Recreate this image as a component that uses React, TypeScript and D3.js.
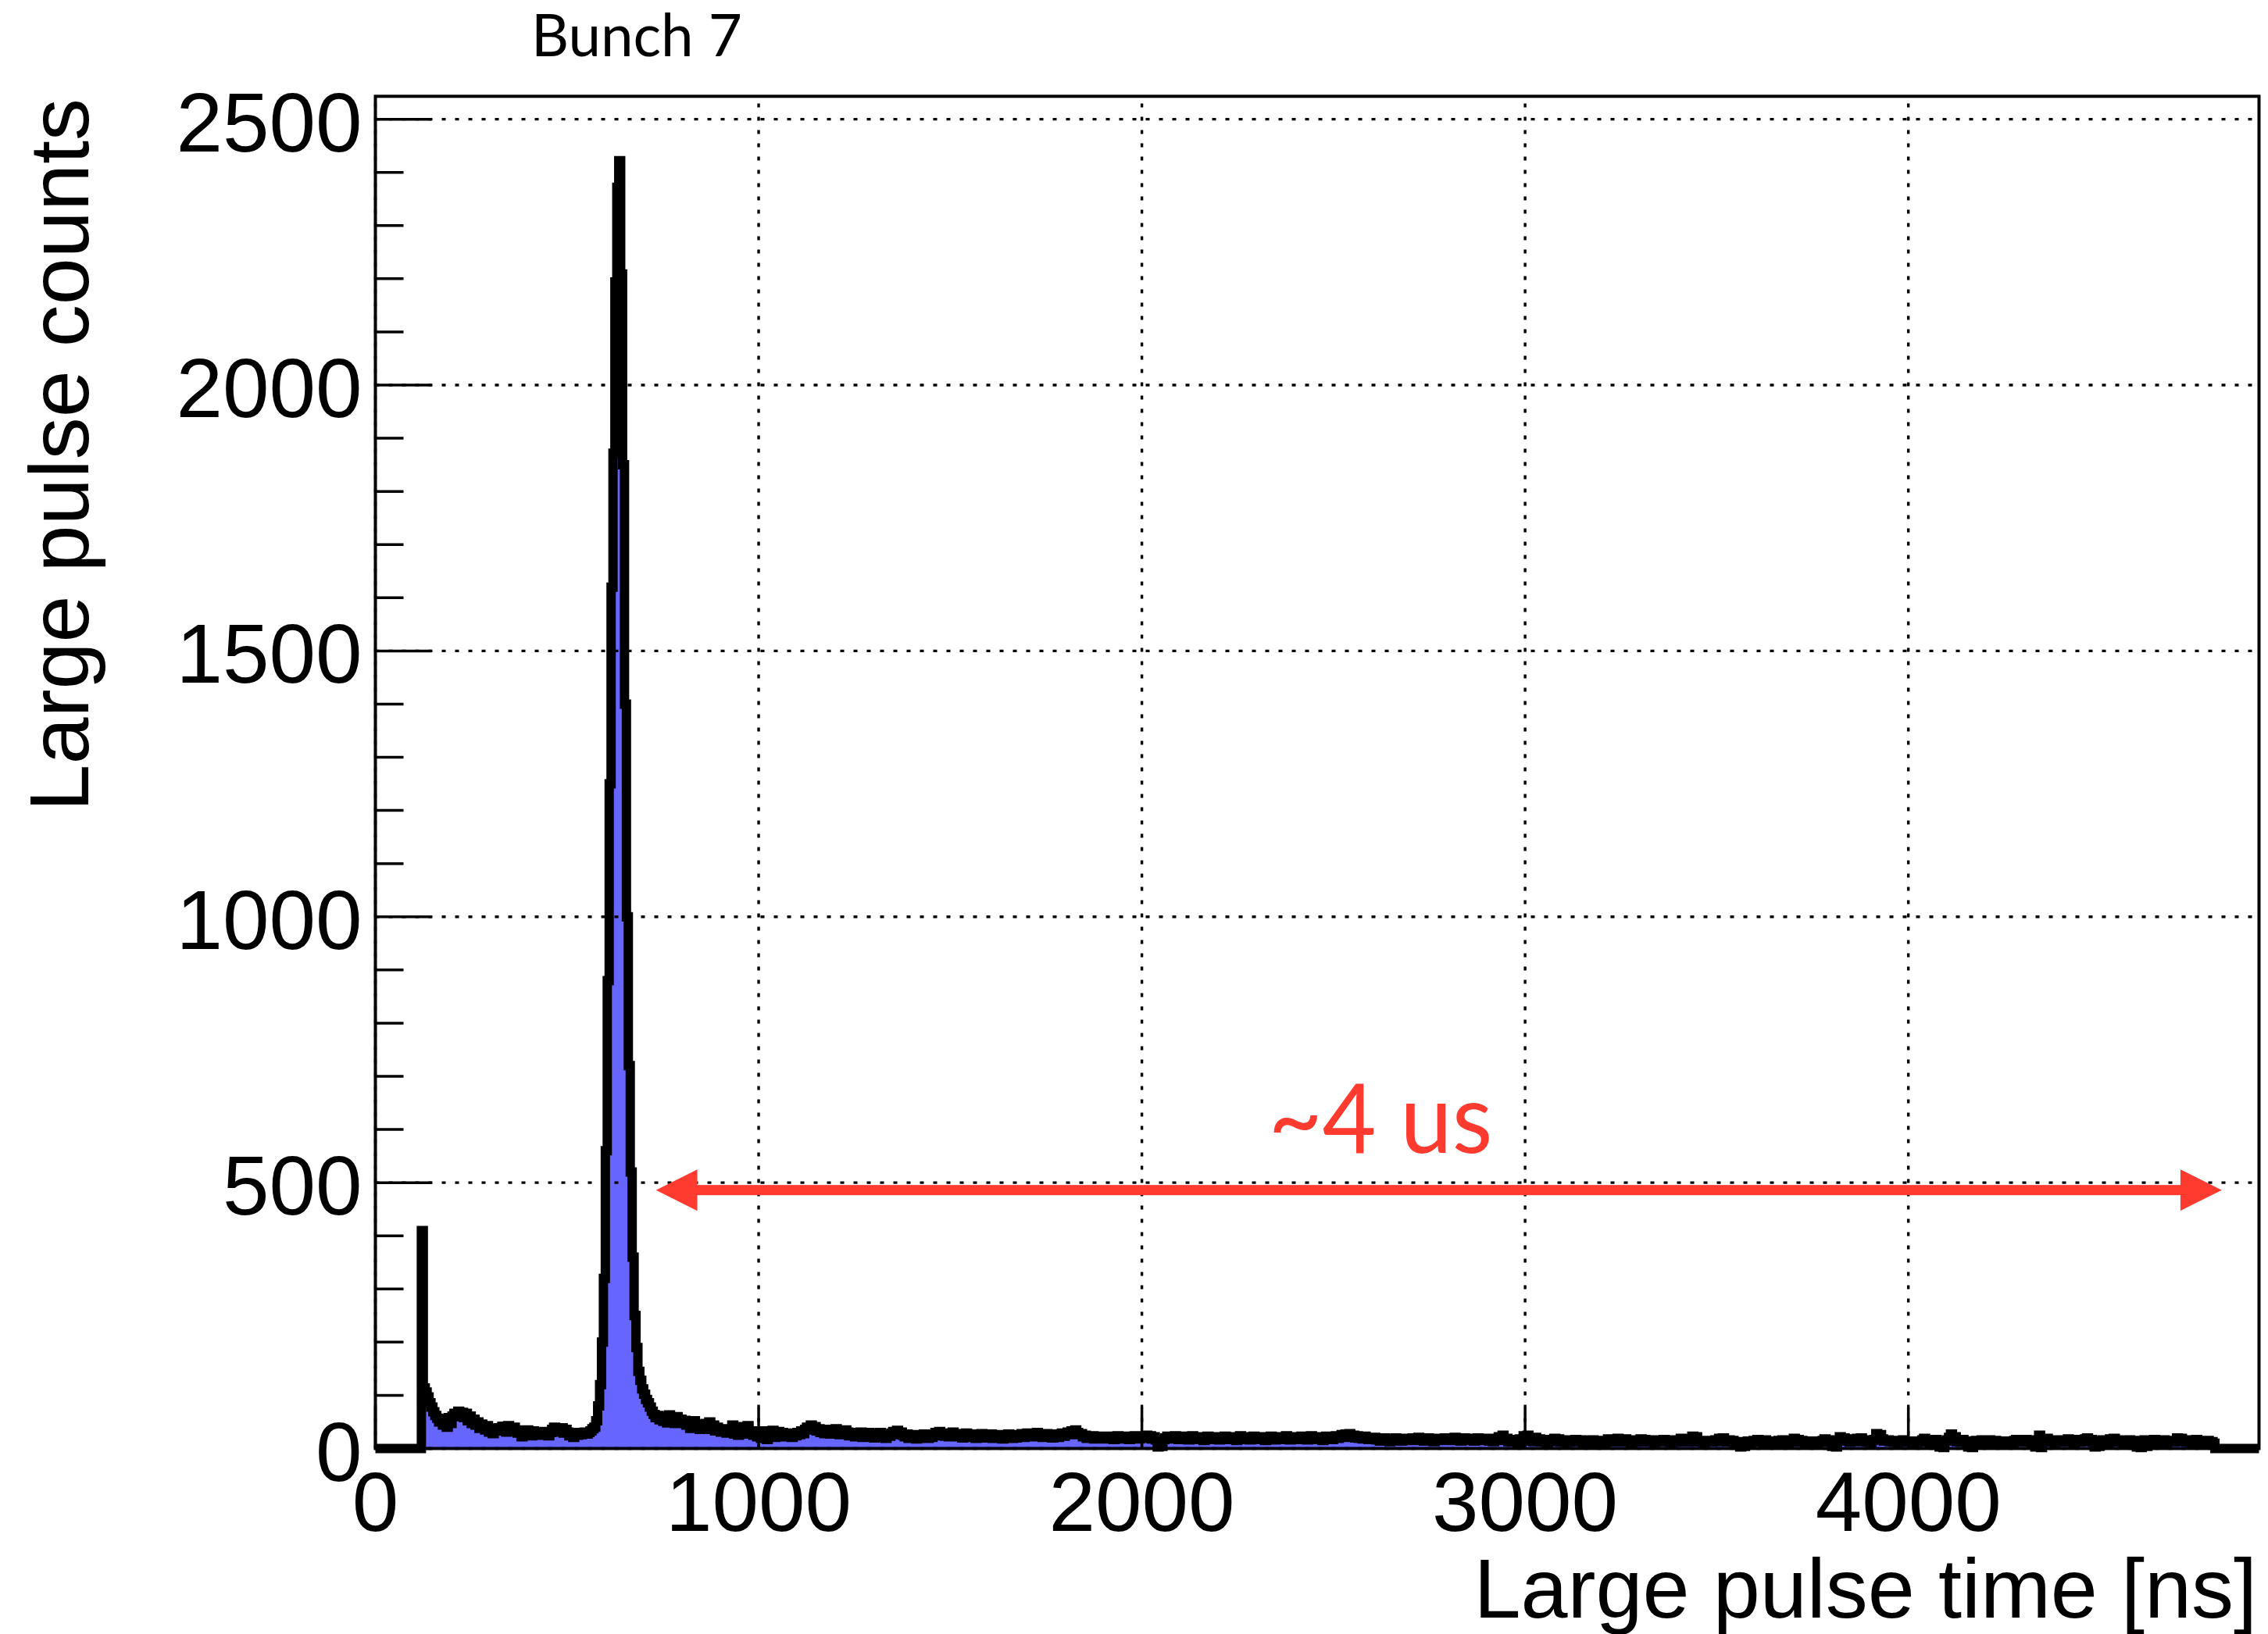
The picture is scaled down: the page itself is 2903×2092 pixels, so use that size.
import React from 'react';
import * as d3 from 'd3';

// ---- Histogram definition (5 ns bins, 0 .. 4915 ns) ----
const BIN_WIDTH_NS = 5;
const X_MAX_NS = 4915;

const counts0000 = [
  0,0,0,0,0,0,0,0,0,0,0,0,0,0,0,0,0,0,0,0,
  0,0,0,0,410,114,106,97,86,78,69,62,57,50,55,44,52,40,58,47,
  61,66,60,70,63,68,58,66,52,61,47,55,44,50,38,46,41,35,43,31,
  38,28,36,33,39,34,42,36,31,43,37,33,40,35,29,34,22,31,27,35,
  29,24,33,28,31,25,30,26,32,27,24,30,36,40,31,38,34,39,29,36,
];
const counts0500 = [
  31,24,29,21,27,25,30,26,28,31,27,30,33,37,40,52,80,120,200,320,
  560,880,1250,1620,1872,2194,2372,2422,2209,1850,1400,1000,720,520,360,250,190,145,128,112,
  102,92,86,78,70,64,58,62,54,60,51,57,48,63,52,58,47,60,50,55,
  47,53,44,50,38,46,52,40,45,36,42,38,47,40,50,36,44,33,40,35,
  31,37,33,29,35,30,44,27,38,25,41,30,36,27,43,29,33,25,31,22,
];
const counts1000 = [
  29,19,33,24,17,30,26,34,21,28,32,24,30,22,27,25,29,21,28,24,
  30,26,33,28,36,40,35,44,38,41,33,37,30,35,28,36,31,27,34,29,
  37,30,26,33,28,35,31,24,30,26,22,29,25,31,21,27,24,30,23,26,
  20,28,24,30,22,26,19,27,23,29,32,26,34,28,31,25,22,27,19,24,
  21,26,18,23,25,20,27,22,19,24,21,26,30,24,32,27,29,23,26,22,
];
const counts1500 = [
  27,31,24,28,22,26,20,25,29,23,21,27,24,19,26,22,28,23,20,25,
  22,27,19,24,21,26,23,18,25,21,27,22,19,24,20,26,23,28,21,25,
  29,24,27,22,26,30,23,27,21,25,28,22,26,20,24,27,21,25,29,23,
  27,31,26,33,29,35,30,26,28,22,25,19,23,20,24,18,22,19,23,20,
  21,18,23,19,22,17,21,24,19,22,18,23,20,17,22,19,24,20,18,21,
];
const counts2000 = [
  23,19,25,21,24,18,22,16,3,14,4,17,20,23,18,22,19,24,20,17,
  21,18,23,19,16,21,24,18,20,17,22,19,15,20,23,18,21,17,22,19,
  16,21,18,23,19,17,22,18,20,15,21,24,19,17,22,18,16,20,23,18,
  20,17,22,19,15,21,18,23,20,16,19,22,17,21,18,24,19,16,21,18,
  22,17,20,23,18,21,16,20,24,19,17,22,18,21,15,20,23,18,21,17,
];
const counts2500 = [
  20,24,19,22,26,21,27,23,28,22,25,20,24,19,22,18,23,20,17,21,
  17,21,16,19,14,18,20,15,17,13,18,16,20,15,18,14,17,19,15,18,
  16,20,15,18,21,16,19,14,17,20,15,18,13,17,19,15,18,16,20,17,
  19,15,18,21,16,19,14,17,20,15,18,16,19,14,17,20,16,18,15,19,
  17,14,19,13,16,15,22,18,25,16,19,13,17,12,15,14,11,18,15,24,
];
const counts3000 = [
  17,25,14,19,13,21,16,18,12,15,17,11,14,16,13,19,15,18,12,16,
  14,11,15,13,16,12,17,14,13,16,11,14,12,15,13,16,10,14,12,15,
  13,11,14,18,13,17,12,15,19,14,16,12,18,13,15,11,16,13,14,12,
  18,14,17,12,15,13,16,11,14,12,15,13,17,12,14,16,11,15,13,12,
  16,19,13,17,14,12,18,23,17,22,14,12,15,11,14,13,15,12,14,16,
];
const counts3500 = [
  13,19,15,20,14,12,16,13,15,11,13,9,3,13,4,12,14,11,13,15,
  15,17,12,14,11,16,13,10,14,12,9,13,15,11,16,12,14,10,13,15,
  19,14,17,12,15,13,11,14,10,13,12,14,11,13,12,15,18,14,16,12,
  4,13,3,15,22,17,20,14,18,12,16,13,15,19,14,20,13,16,12,14,
  11,15,17,28,21,26,18,14,16,16,13,15,12,14,11,15,13,16,12,14,
];
const counts4000 = [
  12,14,11,13,10,14,12,16,19,15,13,11,14,12,17,13,3,12,2,14,
  16,21,27,18,22,13,15,12,17,13,11,3,14,2,12,15,11,14,16,12,
  14,11,16,13,12,15,10,14,12,11,14,10,13,12,11,15,17,13,16,12,
  14,17,12,15,11,14,3,16,25,2,18,13,19,14,12,15,11,16,13,12,
  15,12,14,18,13,16,11,17,14,12,15,13,18,20,15,17,12,3,14,4,
];
const counts4500 = [
  13,16,12,15,11,18,14,19,13,16,12,14,11,15,13,16,12,15,11,3,
  14,2,12,16,4,13,15,11,17,13,10,15,12,16,11,14,13,15,12,14,
  20,16,19,13,15,12,16,11,14,12,17,13,15,11,14,12,15,11,13,10,
  0,0,0,0,0,0,0,0,0,0,0,0,0,0,0,0,0,0,0,0,0,0,0,
];

const counts: number[] = [
  ...counts0000, ...counts0500, ...counts1000, ...counts1500, ...counts2000,
  ...counts2500, ...counts3000, ...counts3500, ...counts4000, ...counts4500,
];

// ---- Axis ticks and labels ----
const xTickValues = [0, 1000, 2000, 3000, 4000];
const yTickValues = [0, 500, 1000, 1500, 2000, 2500];
const yMinorStep = 100;

const TITLE = 'Bunch 7';
const X_TITLE = 'Large pulse time [ns]';
const Y_TITLE = 'Large pulse counts';
const ANNOT_TEXT = '~4 us';
// annotation (data units)
const arrowFromNs = 732;
const arrowToNs = 4818;
const arrowLevel = 486;
const annotTextNs = 2330;
const annotTextLevel = 556;

export default function App() {
  const W = 2903;
  const H = 2092;
  const left = 480.5;
  const right = 2891.5;
  const top = 123.3;
  const bottom = 1854.5;

  const yMax = 1.05 * (d3.max(counts) as number);
  const x = d3.scaleLinear().domain([0, X_MAX_NS]).range([left, right]);
  const y = d3.scaleLinear().domain([0, yMax]).range([bottom, top]);

  const pts: [number, number][] = counts.map((c, i) => [i * BIN_WIDTH_NS, c]);
  pts.push([X_MAX_NS, counts[counts.length - 1]]);

  const lineGen = d3
    .line<[number, number]>()
    .x((d) => x(d[0]))
    .y((d) => y(d[1]))
    .curve(d3.curveStepAfter);
  const areaGen = d3
    .area<[number, number]>()
    .x((d) => x(d[0]))
    .y0(y(0))
    .y1((d) => y(d[1]))
    .curve(d3.curveStepAfter);

  const yMinor = d3.range(0, yMax, yMinorStep).filter((v) => v % 500 !== 0);

  const rootFont = "'Liberation Sans', Arial, Helvetica, sans-serif";
  const pptFont = "Lato, 'Open Sans', sans-serif";
  const red = '#ff3b30';

  const majorY = 72;
  const minorY = 36;
  const majorX = 52;

  const ay = y(arrowLevel);
  const ax0 = x(arrowFromNs);
  const ax1 = x(arrowToNs);
  const headL = 53;
  const headH = 26.5;

  return (
    <svg
      width={W}
      height={H}
      viewBox={`0 0 ${W} ${H}`}
      style={{ position: 'absolute', left: 0, top: 0, background: '#fff', display: 'block' }}
    >
      <rect x={0} y={0} width={W} height={H} fill="#fff" />

      {/* histogram fill */}
      <path d={areaGen(pts) || ''} fill="#6666ff" stroke="none" />

      {/* grid */}
      <g stroke="#000" strokeWidth={3.4} strokeDasharray="5 12" fill="none">
        {yTickValues.map((v) => (
          <line key={'gy' + v} x1={left} x2={right} y1={y(v)} y2={y(v)} />
        ))}
        {xTickValues.map((v) => (
          <line key={'gx' + v} x1={x(v)} x2={x(v)} y1={bottom} y2={top} />
        ))}
      </g>

      {/* histogram outline */}
      <path
        d={lineGen(pts) || ''}
        fill="none"
        stroke="#000"
        strokeWidth={12}
        strokeLinejoin="miter"
        strokeLinecap="butt"
      />

      {/* frame */}
      <rect x={left} y={top} width={right - left} height={bottom - top} fill="none" stroke="#000" strokeWidth={4} />

      {/* ticks */}
      <g stroke="#000" strokeWidth={3.5}>
        {yTickValues.map((v) => (
          <line key={'ty' + v} x1={left} x2={left + majorY} y1={y(v)} y2={y(v)} />
        ))}
        {yMinor.map((v) => (
          <line key={'tmy' + v} x1={left} x2={left + minorY} y1={y(v)} y2={y(v)} />
        ))}
        {xTickValues.map((v) => (
          <line key={'tx' + v} x1={x(v)} x2={x(v)} y1={bottom} y2={bottom - majorX} />
        ))}
      </g>

      {/* tick labels */}
      <g fontFamily={rootFont} fontSize={107} fill="#000">
        {yTickValues.map((v) => (
          <text key={'ly' + v} x={left - 17} y={y(v) + 41} textAnchor="end">
            {String(v)}
          </text>
        ))}
        {xTickValues.map((v) => (
          <text key={'lx' + v} x={x(v)} y={bottom + 105} textAnchor="middle">
            {String(v)}
          </text>
        ))}
      </g>

      {/* axis titles */}
      <text x={2889} y={2071} textAnchor="end" fontFamily={rootFont} fontSize={108} fill="#000">
        {X_TITLE}
      </text>
      <text
        transform="translate(113,126) rotate(-90)"
        textAnchor="end"
        fontFamily={rootFont}
        fontSize={108}
        fill="#000"
      >
        {Y_TITLE}
      </text>

      {/* title (slide annotation) */}
      <text
        x={680}
        y={72}
        fontFamily={pptFont}
        fontSize={75}
        textLength={270}
        lengthAdjust="spacingAndGlyphs"
        fill="#000"
      >
        {TITLE}
      </text>

      {/* red arrow annotation */}
      <g fill={red} stroke="none">
        <rect x={ax0 + headL - 1} y={ay - 6.5} width={ax1 - ax0 - 2 * headL + 2} height={13} />
        <polygon points={`${ax0},${ay} ${ax0 + headL},${ay - headH} ${ax0 + headL},${ay + headH}`} />
        <polygon points={`${ax1},${ay} ${ax1 - headL},${ay - headH} ${ax1 - headL},${ay + headH}`} />
      </g>
      <text
        x={x(annotTextNs)}
        y={y(annotTextLevel)}
        fontFamily={pptFont}
        fontSize={125}
        textLength={287}
        lengthAdjust="spacingAndGlyphs"
        fill={red}
      >
        {ANNOT_TEXT}
      </text>
    </svg>
  );
}
